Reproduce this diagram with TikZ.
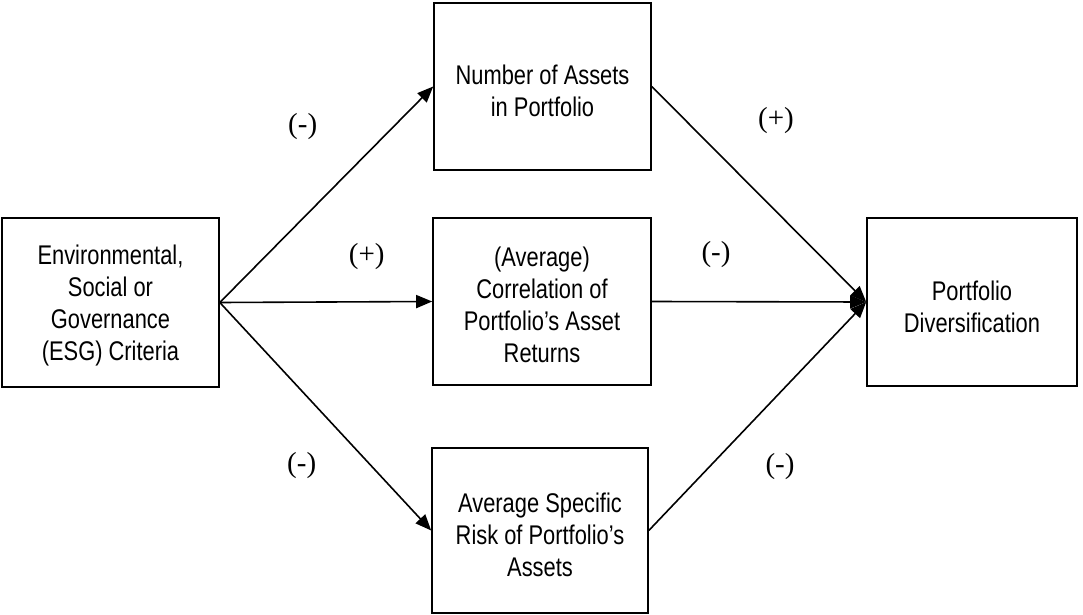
\documentclass[tikz,border=0pt]{standalone}
\usepackage{fontspec}
\usetikzlibrary{arrows.meta}
\newfontfamily\boxfont[FakeStretch=0.81]{Liberation Sans}
\newfontfamily\labfont{Liberation Serif}
\begin{document}
\begin{tikzpicture}[x=1pt,y=-1pt,
  box/.style={draw,line width=1.6pt,inner sep=0pt},
  boxtext/.style={align=center,inner sep=0pt,
    font=\boxfont\fontsize{27}{32}\selectfont},
  conn/.style={line width=1.6pt,-{Triangle[length=16pt,width=13pt]}},
  sign/.style={font=\labfont\fontsize{29}{32}\selectfont,inner sep=0pt}]
\useasboundingbox (0,0) rectangle (1083,615);
\node[box,minimum width=217pt,minimum height=169pt] (esg) at (110.5,302.5) {};
\node[box,minimum width=217pt,minimum height=167pt] (num) at (542.5,86.5) {};
\node[box,minimum width=218pt,minimum height=167pt] (cor) at (542,301.5) {};
\node[box,minimum width=216pt,minimum height=165pt] (risk) at (540,530.5) {};
\node[box,minimum width=210pt,minimum height=168pt] (div) at (972,302) {};
\node[boxtext] (esgt) at ([yshift=-3.5pt]esg.center)
  {Environmental,\\Social or\\Governance\\(ESG) Criteria};
\node[boxtext] (numt) at ([yshift=-4pt]num.center)
  {Number of Assets\\in Portfolio};
\node[boxtext] (cort) at ([yshift=-3.5pt]cor.center)
  {(Average)\\Correlation of\\Portfolio’s Asset\\Returns};
\node[boxtext] (riskt) at ([yshift=-4.5pt]risk.center)
  {Average Specific\\Risk of Portfolio’s\\Assets};
\node[boxtext] (divt) at ([yshift=-4.5pt]div.center)
  {Portfolio\\Diversification};
\draw[conn] (esg.east) -- (num.west);
\draw[conn] (esg.east) -- (cor.west);
\draw[conn] (esg.east) -- (risk.west);
\draw[conn] (num.east) -- (div.west);
\draw[conn] (cor.east) -- (div.west);
\draw[conn] (risk.east) -- (div.west);
\node[sign] (s1) at (302.7,127) {(-)};
\node[sign] (s2) at (366.7,257) {(+)};
\node[sign] (s3) at (301.7,466) {(-)};
\node[sign] (s4) at (776,121) {(+)};
\node[sign] (s5) at (716,255) {(-)};
\node[sign] (s6) at (780,467) {(-)};
\end{tikzpicture}
\end{document}
